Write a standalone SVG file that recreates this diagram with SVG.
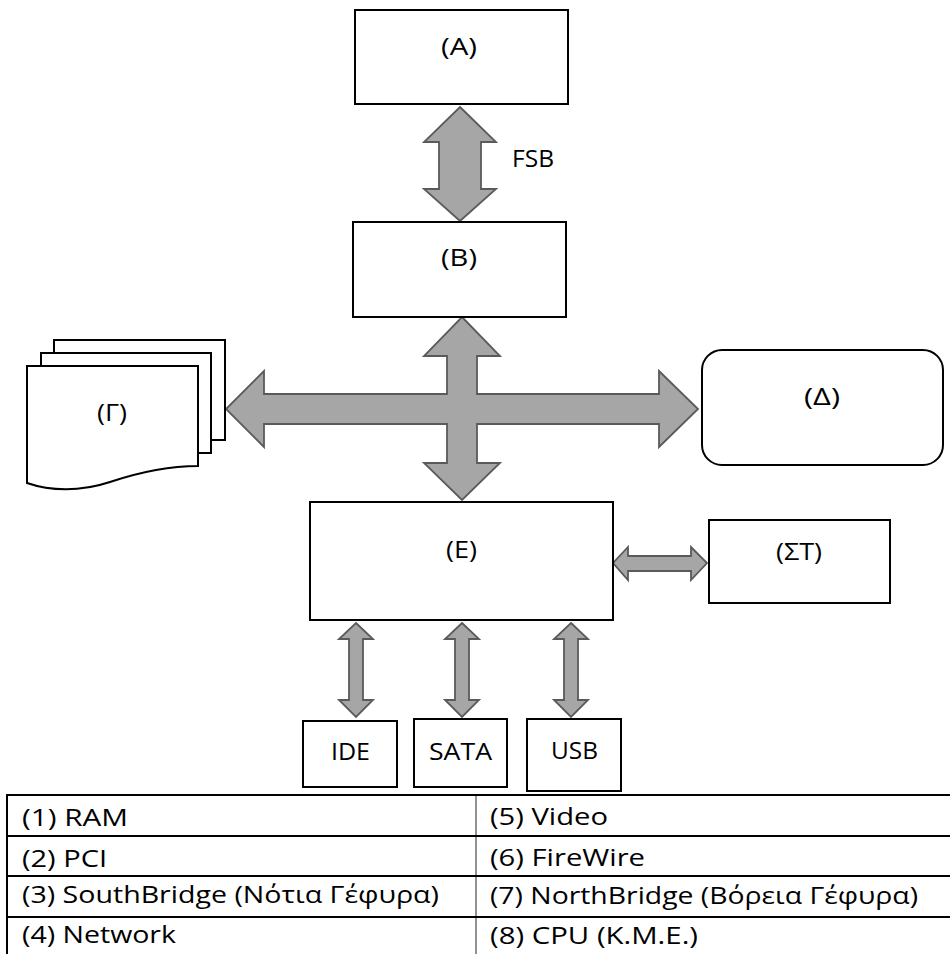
<svg xmlns="http://www.w3.org/2000/svg" width="950" height="954" viewBox="0 0 950 954">
<style>
.box{fill:#fff;stroke:#000;stroke-width:2}
.arr{fill:#a6a6a6;stroke:#5a5a5a;stroke-width:1.8;stroke-linejoin:miter}
text{font-family:"Open Sans","Liberation Sans",sans-serif;font-size:24px;fill:#000}
.tl{stroke:#000;stroke-width:2}
</style>
<rect width="950" height="954" fill="#fff"/>
<g id="connectors">
<polygon class="arr" points="460,107 496,142 481,142 481,189 496,189 460,221 424,189 439,189 439,142 424,142"/>
<polygon class="arr" points="462,317 500,356 477,356 477,394 659,394 659,371 698,409 659,447 659,424 477,424 477,463 500,463 462,500 424,463 447,463 447,424 264,424 264,447 226,409 264,371 264,394 447,394 447,356 424,356"/>
<polygon class="arr" points="613,563 628,547 628,556 691,556 691,547 707,563 691,580 691,571 628,571 628,580"/>
<polygon class="arr" points="356,623 373,639 363,639 363,700 373,700 356,717 339,700 349,700 349,639 339,639"/>
<polygon class="arr" points="462,623 479,639 469,639 469,700 479,700 462,717 445,700 455,700 455,639 445,639"/>
<polygon class="arr" points="571,623 588,639 578,639 578,700 588,700 571,717 554,700 564,700 564,639 554,639"/>
<text x="512" y="167" textLength="42" lengthAdjust="spacingAndGlyphs">FSB</text>
</g>
<g id="A"><rect class="box" x="355" y="10" width="213" height="94"/><text x="441" y="55" textLength="36" lengthAdjust="spacingAndGlyphs">(A)</text></g>
<g id="B"><rect class="box" x="353" y="222" width="213" height="95"/><text x="441" y="266" textLength="36" lengthAdjust="spacingAndGlyphs">(B)</text></g>
<g id="G">
<rect class="box" x="54" y="340" width="171" height="100"/>
<rect class="box" x="41" y="353" width="170" height="100"/>
<path class="box" d="M27,366 H198 V466 C170,466 140,472 110,482 C80,492 50,491 27,483 Z"/>
<text x="97" y="421" textLength="30" lengthAdjust="spacingAndGlyphs">(Γ)</text>
</g>
<g id="D"><rect class="box" x="702" y="350" width="241" height="115" rx="20" ry="20"/><text x="804" y="405" textLength="36" lengthAdjust="spacingAndGlyphs">(Δ)</text></g>
<g id="E"><rect class="box" x="310" y="502" width="303" height="118"/><text x="446" y="558" textLength="31" lengthAdjust="spacingAndGlyphs">(E)</text></g>
<g id="ST"><rect class="box" x="709" y="520" width="181" height="83"/><text x="776" y="560" textLength="46" lengthAdjust="spacingAndGlyphs">(ΣΤ)</text></g>
<g id="IDE"><rect class="box" x="303" y="721" width="94" height="66"/><text x="331" y="760" textLength="39" lengthAdjust="spacingAndGlyphs">IDE</text></g>
<g id="SATA"><rect class="box" x="414" y="719" width="93" height="68"/><text x="429" y="760" textLength="63" lengthAdjust="spacingAndGlyphs">SATA</text></g>
<g id="USB"><rect class="box" x="527" y="719" width="94" height="72"/><text x="551" y="759" textLength="47" lengthAdjust="spacingAndGlyphs">USB</text></g>
<g id="table">
<line x1="476" y1="795" x2="476" y2="954" stroke="#6e6e6e" stroke-width="1.5"/>
<line class="tl" x1="7" y1="795" x2="950" y2="795"/>
<line class="tl" x1="7" y1="836" x2="950" y2="836"/>
<line class="tl" x1="7" y1="876" x2="950" y2="876"/>
<line class="tl" x1="7" y1="917" x2="950" y2="917"/>
<line class="tl" x1="7" y1="794" x2="7" y2="954"/>
<text x="22" y="826" textLength="106" lengthAdjust="spacingAndGlyphs">(1) RAM</text>
<text x="22" y="867" textLength="85" lengthAdjust="spacingAndGlyphs">(2) PCI</text>
<text x="22" y="903" textLength="417" lengthAdjust="spacingAndGlyphs">(3) SouthBridge (Νότια Γέφυρα)</text>
<text x="22" y="943" textLength="154" lengthAdjust="spacingAndGlyphs">(4) Network</text>
<text x="490" y="825" textLength="118" lengthAdjust="spacingAndGlyphs">(5) Video</text>
<text x="490" y="866" textLength="155" lengthAdjust="spacingAndGlyphs">(6) FireWire</text>
<text x="490" y="904" textLength="428" lengthAdjust="spacingAndGlyphs">(7) NorthBridge (Βόρεια Γέφυρα)</text>
<text x="490" y="944" textLength="208" lengthAdjust="spacingAndGlyphs">(8) CPU (K.M.E.)</text>
</g>
</svg>
